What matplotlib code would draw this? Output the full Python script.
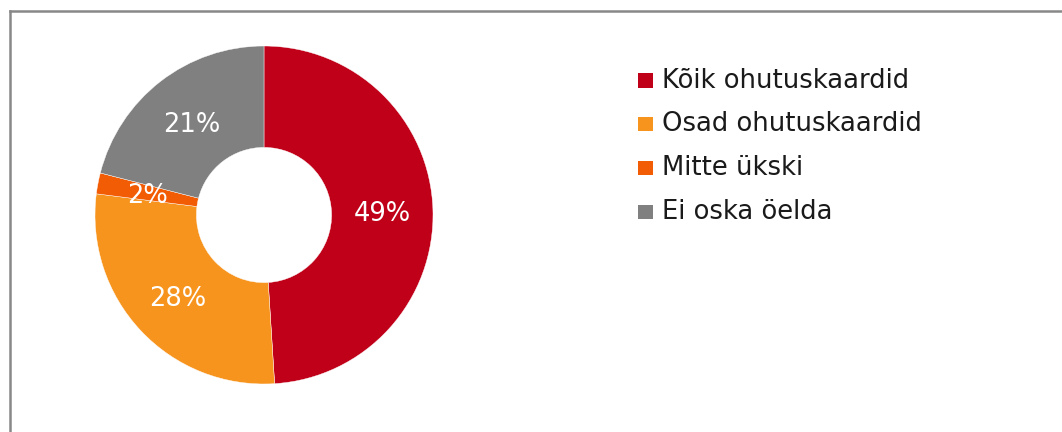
import matplotlib
matplotlib.use("Agg")
import matplotlib.pyplot as plt
from matplotlib.patches import Rectangle
from matplotlib.lines import Line2D

categories = ["Kõik ohutuskaardid", "Osad ohutuskaardid", "Mitte ükski", "Ei oska öelda"]
values = [49, 28, 2, 21]
colors = ["#C00018", "#F7941E", "#F25C05", "#808080"]

W, H = 1062, 432
fig = plt.figure(figsize=(W / 100, H / 100), dpi=100)
fig.patch.set_facecolor("white")

# partial frame (left + top)
fig.add_artist(Line2D([10 / W, 10 / W], [0, 1 - 10.5 / H], color="#888888", lw=1.8))
fig.add_artist(Line2D([10 / W, 1], [1 - 10.5 / H, 1 - 10.5 / H], color="#888888", lw=1.8))

cx, cy, R = 264, 215, 169
ax = fig.add_axes([(cx - R) / W, (H - cy - R) / H, 2 * R / W, 2 * R / H])
wedges, texts, autotexts = ax.pie(
    values, colors=colors, startangle=90, counterclock=False, radius=1,
    autopct=lambda p: f"{p:.0f}%", pctdistance=0.70,
    wedgeprops=dict(width=0.6, edgecolor="white", linewidth=0.3),
    textprops=dict(color="white", fontsize=18.5, family="DejaVu Sans"))
for t in autotexts:
    t.set_va("center_baseline")
ax.set_xlim(-1, 1)
ax.set_ylim(-1, 1)
ax.set_aspect("equal")
ax.axis("off")

# legend
y0, dy = 80.5, 43.8
for i, (lab, col) in enumerate(zip(categories, colors)):
    y = y0 + i * dy
    fig.add_artist(Rectangle((638 / W, 1 - (y + 7) / H), 15 / W, 14 / H,
                             transform=fig.transFigure, facecolor=col, edgecolor="none"))
    fig.text(662 / W, 1 - y / H, lab, fontsize=18.6, va="center", ha="left",
             color="#1a1a1a", family="DejaVu Sans")

fig.savefig("out.png", dpi=100, facecolor="white")
